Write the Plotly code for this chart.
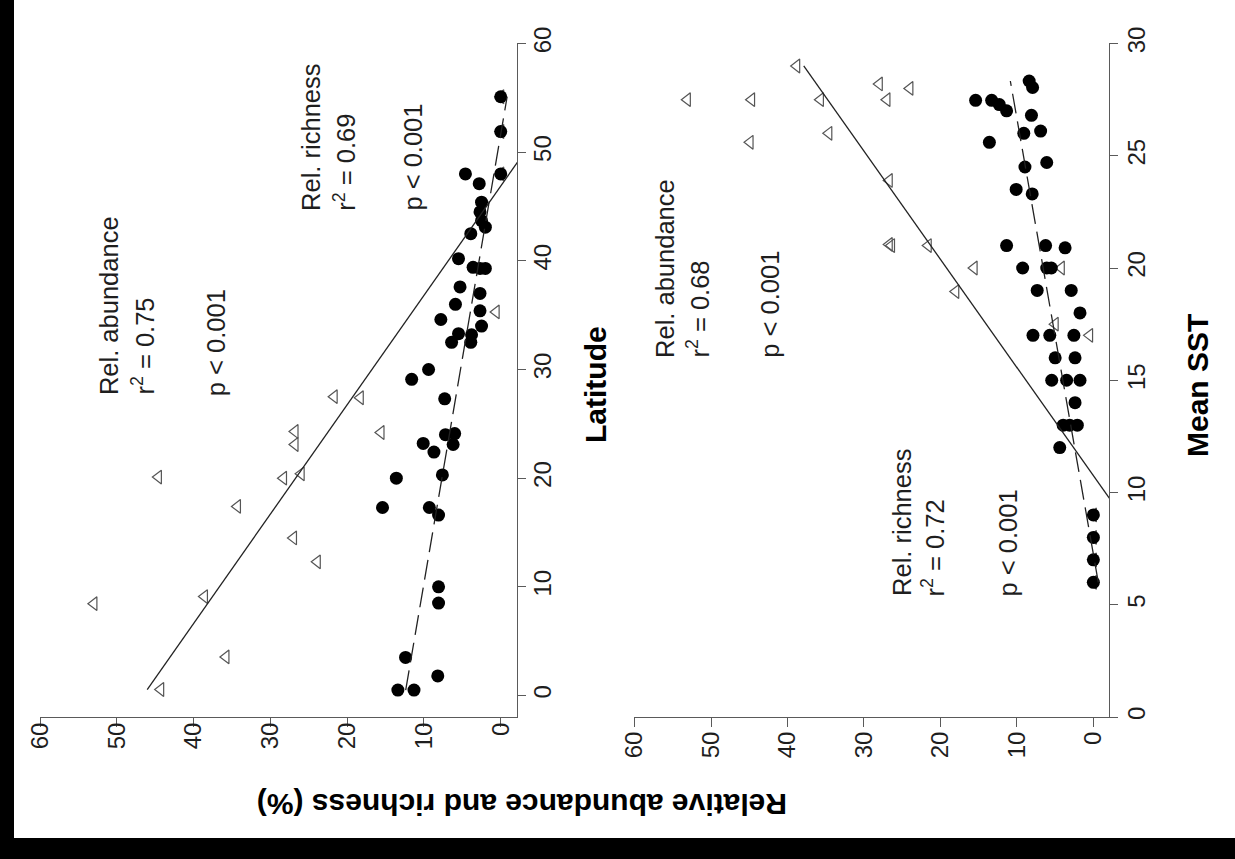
import plotly.graph_objects as go

W, H = 1235, 859

# ---------------- data: panel A (Latitude) ----------------
lat_rich = [0.5, 0.5, 1.8, 3.5, 8.5, 10.0, 16.6, 17.3, 17.3, 20.0, 20.3, 22.4, 23.2, 23.1,
            24.0, 24.1, 27.3, 29.1, 30.0, 32.5, 32.5, 33.3, 33.2, 34.0, 34.6, 35.4, 36.0,
            37.0, 37.6, 39.3, 39.4, 39.3, 40.2, 42.5, 43.1, 43.7, 44.5, 45.4, 47.1, 48.0,
            48.0, 51.9, 55.1]
rich_lat = [13.4, 11.3, 8.2, 12.4, 8.1, 8.1, 8.1, 9.3, 15.4, 13.6, 7.6, 8.7, 10.1, 6.2,
            7.2, 6.0, 7.3, 11.6, 9.4, 6.4, 3.9, 5.5, 3.8, 2.5, 7.8, 2.7, 5.9,
            2.7, 5.3, 2.0, 3.6, 2.7, 5.5, 3.9, 2.0, 2.5, 2.7, 2.5, 2.8, 4.6,
            0.0, 0.0, 0.0]
lat_abund = [0.55, 3.55, 8.45, 9.1, 12.3, 14.5, 17.4, 20.1, 20.0, 20.4, 23.1, 24.3, 24.2,
             27.5, 27.4, 35.3, 48.0, 51.9, 55.1]
abund_lat = [44.3, 35.8, 53.0, 38.6, 23.9, 27.0, 34.3, 44.6, 28.3, 26.0, 26.8, 26.8, 15.6,
             21.7, 18.3, 0.6, 0.0, 0.0, 0.0]

# ---------------- data: panel B (Mean SST) ----------------
sst_rich = [28.33, 28.04, 27.47, 27.47, 27.28, 27.0, 26.8, 26.0, 26.1, 25.6, 24.5, 24.7,
            23.5, 23.3, 21.0, 21.0, 20.9, 20.0, 20.0, 20.0, 19.0, 19.0, 18.0, 17.0, 17.0,
            17.0, 16.0, 16.0, 15.0, 15.0, 15.0, 14.0, 13.0, 13.0, 13.0, 12.0, 9.0, 8.0,
            7.0, 6.0]
rich_sst = [8.4, 7.95, 15.4, 13.3, 12.3, 11.35, 8.1, 9.1, 6.9, 13.6, 8.95, 6.1,
            10.1, 8.0, 11.35, 6.25, 3.7, 9.25, 6.1, 5.5, 7.35, 2.9, 1.75, 7.9, 5.7,
            2.55, 5.0, 2.4, 5.45, 3.5, 1.75, 2.4, 3.95, 3.1, 2.1, 4.4, 0.0, 0.0,
            0.0, 0.0]
sst_abund = [29.0, 27.5, 27.5, 27.5, 28.2, 28.0, 27.5, 25.6, 26.0, 23.9, 21.0, 21.05,
             21.0, 20.0, 18.95, 20.0, 17.5, 17.0, 9.0, 8.0, 7.0, 6.0]
abund_sst = [38.8, 53.1, 44.7, 35.7, 28.0, 24.0, 27.0, 44.9, 34.6, 26.7, 26.4, 26.7,
             21.6, 15.6, 18.0, 4.2, 5.0, 0.5, 0.0, 0.0, 0.0, 0.0]

# regression lines: (intercept, slope)
fit_lat_abund = [46.6, -0.994]
fit_lat_rich = [12.5, -0.242]
fit_sst_abund = [-22.3, 2.075]
fit_sst_rich = [-3.73, 0.515]

rel_ticks = [0, 10, 20, 30, 40, 50, 60]
lat_ticks = [0, 10, 20, 30, 40, 50, 60]
sst_ticks = [0, 5, 10, 15, 20, 25, 30]

FONT = "Liberation Sans, Arial, sans-serif"
TXT = "#1e1e1e"
AX = "#5a5a5a"

fig = go.Figure()


def add_panel(xa, ya, xs_t, ys_t, xs_d, ys_d, fit_t, fit_d):
    # open triangles (relative abundance)
    fig.add_trace(go.Scatter(x=xs_t, y=ys_t, mode="markers", xaxis=xa, yaxis=ya,
                             marker=dict(symbol="triangle-left-open", size=12,
                                         color="#555", line=dict(width=1.2)),
                             showlegend=False, cliponaxis=False))
    # filled dots (relative richness)
    fig.add_trace(go.Scatter(x=xs_d, y=ys_d, mode="markers", xaxis=xa, yaxis=ya,
                             marker=dict(symbol="circle", size=13, color="black"),
                             showlegend=False, cliponaxis=False))
    # regression lines over each series' range
    lo, hi = min(ys_t), max(ys_t)
    fig.add_trace(go.Scatter(y=[lo, hi], x=[fit_t[0] + fit_t[1] * lo, fit_t[0] + fit_t[1] * hi],
                             mode="lines", xaxis=xa, yaxis=ya,
                             line=dict(color="#222", width=1.3), showlegend=False))
    lo, hi = min(ys_d), max(ys_d)
    fig.add_trace(go.Scatter(y=[lo, hi], x=[fit_d[0] + fit_d[1] * lo, fit_d[0] + fit_d[1] * hi],
                             mode="lines", xaxis=xa, yaxis=ya,
                             line=dict(color="#222", width=1.3, dash="20px,8px"),
                             showlegend=False))


add_panel("x", "y", abund_lat, lat_abund, rich_lat, lat_rich, fit_lat_abund, fit_lat_rich)
add_panel("x2", "y2", abund_sst, sst_abund, rich_sst, sst_rich, fit_sst_abund, fit_sst_rich)

# invisible anchors so that the label-only overlay axes get drawn
for xa, ya in [("x3", "y"), ("x4", "y2"), ("x", "y3"), ("x2", "y4")]:
    fig.add_trace(go.Scatter(x=[None], y=[None], xaxis=xa, yaxis=ya, mode="markers",
                             showlegend=False, hoverinfo="skip"))


def px(x):
    return x / W


def py(y):
    return 1 - y / H


tickfont = dict(family=FONT, size=24, color=TXT)
# visible axes: lines + tick marks only
common = dict(showgrid=False, zeroline=False, showline=True, linecolor=AX, linewidth=1.3,
              ticks="outside", tickcolor=AX, tickwidth=1.3, showticklabels=False,
              automargin=False, tickmode="array")
# label-only overlay axes (free position lets the labels sit where they do in the scan)
lab = dict(showgrid=False, zeroline=False, showline=False, ticks="outside",
           tickcolor="rgba(0,0,0,0)", tickangle=-90, tickfont=tickfont,
           automargin=False, tickmode="array", anchor="free")

fig.update_layout(
    width=W, height=H, margin=dict(l=0, r=0, t=0, b=0),
    paper_bgcolor="black", plot_bgcolor="white", template="none",
    xaxis=dict(domain=[px(40), px(517)], range=[60.02, -2.12], anchor="y",
               tickvals=rel_ticks, ticklen=9, **common),
    yaxis=dict(domain=[py(717), py(43.3)], range=[-1.98, 60.02], anchor="x", side="right",
               tickvals=lat_ticks, ticklen=8, **common),
    xaxis2=dict(domain=[px(634.4), px(1109.3)], range=[60.02, -2.08], anchor="y2",
                tickvals=rel_ticks, ticklen=9, **common),
    yaxis2=dict(domain=[py(717), py(43.3)], range=[0, 30.01], anchor="x2", side="right",
                tickvals=sst_ticks, ticklen=8, **common),
    xaxis3=dict(overlaying="x", range=[60.02, -2.12], side="bottom", position=py(703),
                tickvals=rel_ticks, ticklen=9, **lab),
    xaxis4=dict(overlaying="x2", range=[60.02, -2.08], side="bottom", position=py(712),
                tickvals=rel_ticks, ticklen=9, **lab),
    yaxis3=dict(overlaying="y", range=[-1.98, 60.02], side="right", position=px(513),
                tickvals=lat_ticks, ticklen=8, **lab),
    yaxis4=dict(overlaying="y2", range=[0, 30.01], side="right", position=px(1107),
                tickvals=sst_ticks, ticklen=8, **lab),
)

# white page of the scan; black shows only as the left and bottom border
fig.add_shape(type="rect", xref="paper", yref="paper", x0=px(14), x1=1.01, y0=py(838), y1=1.01,
              fillcolor="white", line=dict(width=0), layer="below")

afont = dict(family=FONT, size=25.5, color=TXT)
notes = [
    ("x", "y", 51.1, 27.46, "Rel. abundance"),
    ("x", "y", 46.6, 27.46, "r<sup>2</sup> = 0.75"),
    ("x", "y", 37.1, 27.40, "p < 0.001"),
    ("x", "y", 24.8, 44.4, "Rel. richness"),
    ("x", "y", 20.4, 44.4, "r<sup>2</sup> = 0.69"),
    ("x", "y", 11.55, 44.4, "p < 0.001"),
    ("x2", "y2", 56.1, 15.9, "Rel. abundance"),
    ("x2", "y2", 51.7, 15.9, "r<sup>2</sup> = 0.68"),
    ("x2", "y2", 42.4, 15.9, "p < 0.001"),
    ("x2", "y2", 25.0, 5.29, "Rel. richness"),
    ("x2", "y2", 21.0, 5.29, "r<sup>2</sup> = 0.72"),
    ("x2", "y2", 11.2, 5.29, "p < 0.001"),
]
for xr, yr, xv, yv, t in notes:
    fig.add_annotation(xref=xr, yref=yr, x=xv, y=yv, text=t, showarrow=False,
                       textangle=-90, xanchor="center", yanchor="bottom", font=afont)

tfont = dict(family=FONT, size=30, color="black", weight="bold")
fig.add_annotation(xref="paper", yref="paper", x=px(596), y=py(385), text="Latitude",
                   showarrow=False, textangle=-90, xanchor="center", yanchor="middle", font=tfont)
fig.add_annotation(xref="paper", yref="paper", x=px(1198), y=py(386), text="Mean SST",
                   showarrow=False, textangle=-90, xanchor="center", yanchor="middle", font=tfont)
fig.add_annotation(xref="paper", yref="paper", x=px(522), y=py(805),
                   text="Relative abundance and richness (%)",
                   showarrow=False, textangle=180, xanchor="center", yanchor="middle", font=tfont)

fig.write_html("out.html")
